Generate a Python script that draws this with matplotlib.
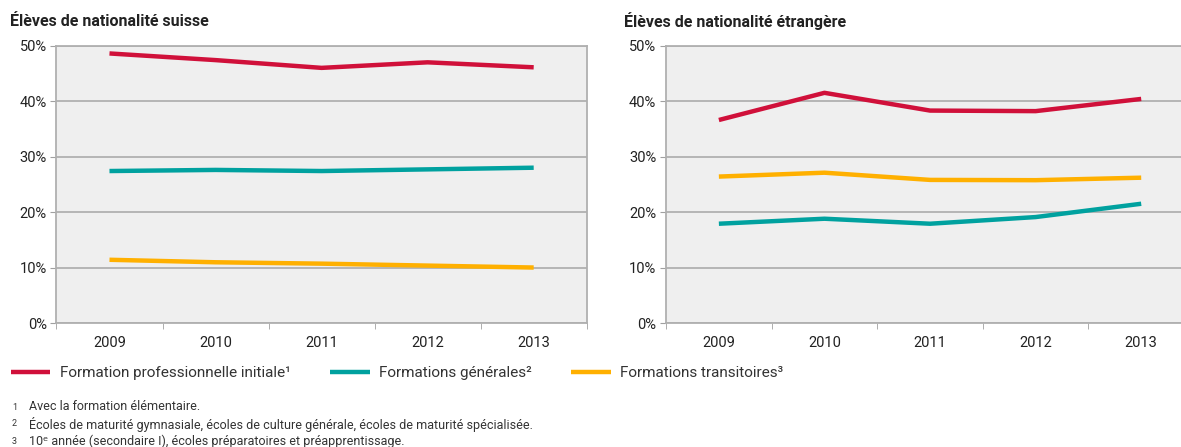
import matplotlib
matplotlib.use("Agg")
import matplotlib.pyplot as plt
from matplotlib.ticker import FuncFormatter, FixedLocator

plt.rcParams['font.family'] = ['Roboto', 'DejaVu Sans']

# Data
years = ['2009', '2010', '2011', '2012', '2013']

suisse_pro = [48.6, 47.4, 46.0, 47.0, 46.1]
suisse_gen = [27.4, 27.6, 27.4, 27.7, 28.0]
suisse_trans = [11.4, 10.95, 10.7, 10.35, 10.0]

etr_pro = [36.6, 41.5, 38.3, 38.2, 40.4]
etr_gen = [17.9, 18.8, 17.9, 19.1, 21.5]
etr_trans = [26.4, 27.1, 25.8, 25.75, 26.2]

series_names = ['Formation professionnelle initiale¹',
                'Formations générales²',
                'Formations transitoires³']
colors = ['#d0103a', '#00a19f', '#ffb000']

footnotes = ['Avec la formation élémentaire.',
             'Écoles de maturité gymnasiale, écoles de culture générale, écoles de maturité spécialisée.',
             '10ᵉ année (secondaire I), écoles préparatoires et préapprentissage.']

fig = plt.figure(figsize=(11.81, 4.47), dpi=100)

ax1 = fig.add_axes([0.0478, 0.2774, 0.449, 0.6204])
ax2 = fig.add_axes([0.564, 0.2774, 0.447, 0.6204])


def style_axis(ax):
    ax.set_facecolor('#efefef')
    ax.set_xlim(-0.5, 4.5)
    ax.set_ylim(0, 50)
    ax.set_yticks([0, 10, 20, 30, 40, 50])
    ax.yaxis.set_major_formatter(FuncFormatter(lambda v, p: f"{v:.0f}%"))
    ax.set_xticks(range(len(years)))
    ax.set_xticklabels(years)
    ax.xaxis.set_minor_locator(FixedLocator([-0.5, 0.5, 1.5, 2.5, 3.5, 4.5]))
    ax.tick_params(axis='x', which='major', length=0, pad=9, labelsize=10.5, colors='#222222')
    ax.tick_params(axis='x', which='minor', length=4, color='#a0a0a0')
    ax.tick_params(axis='y', length=4, color='#a0a0a0', pad=3, labelsize=10.5, labelcolor='#222222')
    ax.grid(axis='y', color='#b0b0b0', linewidth=1.3)
    ax.set_axisbelow(True)
    for s in ax.spines.values():
        s.set_color('#b0b0b0')
        s.set_linewidth(1.3)


lines = []
for vals, c in zip([suisse_pro, suisse_gen, suisse_trans], colors):
    l, = ax1.plot(range(len(years)), vals, color=c, linewidth=3.2, solid_capstyle='butt')
    lines.append(l)
for vals, c in zip([etr_pro, etr_gen, etr_trans], colors):
    ax2.plot(range(len(years)), vals, color=c, linewidth=3.2, solid_capstyle='butt')

style_axis(ax1)
style_axis(ax2)

fig.text(10 / 1181, 1 - 21 / 447, 'Élèves de nationalité suisse', fontsize=11.5,
         fontweight='bold', va='center', ha='left', color='#222222')
fig.text(624 / 1181, 1 - 21 / 447, 'Élèves de nationalité étrangère', fontsize=11.5,
         fontweight='bold', va='center', ha='left', color='#222222')

fig.legend(lines, series_names, loc='center left', bbox_to_anchor=(0.0, 1 - 373 / 447),
           ncol=3, frameon=False, fontsize=11, handlelength=2.6, handletextpad=0.6,
           columnspacing=2.6, labelcolor='#333333', borderaxespad=0.3)

for i, txt in enumerate(footnotes):
    y = 1 - (407 + i * 17) / 447
    fig.text(12 / 1181, y, str(i + 1), fontsize=6.5, va='center', color='#333333')
    fig.text(29 / 1181, y, txt, fontsize=9, va='center', color='#333333')

fig.savefig('out.png', dpi=100)
